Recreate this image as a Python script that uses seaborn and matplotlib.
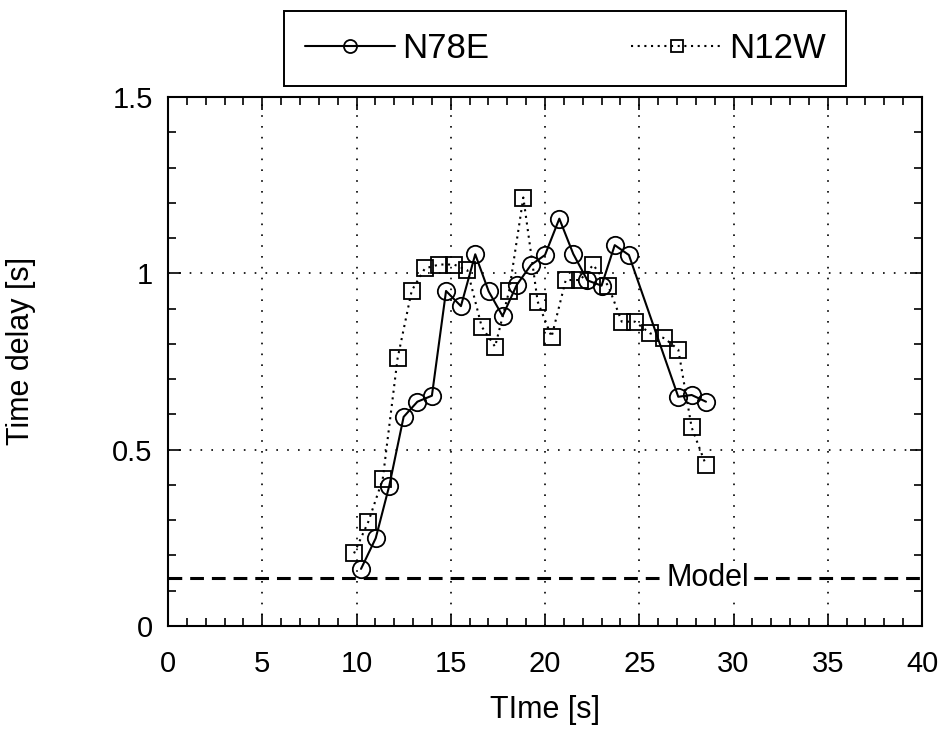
import matplotlib
matplotlib.use("Agg")
import matplotlib.pyplot as plt
import seaborn as sns
from matplotlib.ticker import MultipleLocator, FuncFormatter

# Time delay measurements for the two horizontal components
n78e_time = [10.24, 11.02, 11.74, 12.5, 13.23, 14.0, 14.75, 15.54, 16.3, 17.01,
             17.75, 18.5, 19.26, 20.0, 20.76, 21.5, 22.25, 23.0, 23.7, 24.45,
             27.07, 27.78, 28.54]
n78e_delay = [0.162, 0.249, 0.398, 0.593, 0.636, 0.653, 0.950, 0.907, 1.054, 0.949,
              0.879, 0.967, 1.024, 1.052, 1.155, 1.055, 0.980, 0.965, 1.080, 1.052,
              0.650, 0.655, 0.636]

n12w_time = [9.87, 10.63, 11.39, 12.18, 12.93, 13.63, 14.39, 15.17, 15.88, 16.64,
             17.35, 18.1, 18.85, 19.61, 20.35, 21.1, 21.86, 22.56, 23.36, 24.07,
             24.77, 25.57, 26.33, 27.07, 27.78, 28.54]
n12w_delay = [0.206, 0.296, 0.416, 0.759, 0.951, 1.014, 1.025, 1.025, 1.009, 0.849,
              0.792, 0.951, 1.215, 0.920, 0.820, 0.981, 0.981, 1.024, 0.964, 0.863,
              0.863, 0.830, 0.816, 0.784, 0.563, 0.456]

model_delay = 0.136
model_label = "Model"

x_ticks = [0, 5, 10, 15, 20, 25, 30, 35, 40]
y_ticks = [0, 0.5, 1.0, 1.5]

sns.set_theme(style="ticks")
plt.rcParams['font.family'] = ['Liberation Sans', 'DejaVu Sans']
plt.rcParams['text.color'] = 'black'
plt.rcParams['axes.labelcolor'] = 'black'
plt.rcParams['xtick.color'] = 'black'
plt.rcParams['ytick.color'] = 'black'

fig = plt.figure(figsize=(9.46, 7.33), dpi=100)
ax = fig.add_axes([168 / 946, 1 - 626 / 733, (922 - 168) / 946, (626 - 97) / 733])

sns.lineplot(x=n12w_time, y=n12w_delay, ax=ax, color='black', linewidth=1.5,
             linestyle=(0, (1, 2.2)), marker='s', markersize=11.5,
             markerfacecolor='none', markeredgecolor='black', markeredgewidth=1.3,
             label='N12W', sort=False, estimator=None, zorder=3)
sns.lineplot(x=n78e_time, y=n78e_delay, ax=ax, color='black', linewidth=1.5,
             linestyle='-', marker='o', markersize=12.5,
             markerfacecolor='none', markeredgecolor='black', markeredgewidth=1.3,
             label='N78E', sort=False, estimator=None, zorder=4)

# Model prediction
ax.axhline(model_delay, color='black', linewidth=2.2, linestyle=(0, (4.5, 2.6)), zorder=2)
ax.text(28.65, model_delay, model_label, ha='center', va='center', fontsize=22,
        color='black', bbox=dict(facecolor='white', edgecolor='none', pad=1), zorder=2.5)

ax.set_xlim(0, 40)
ax.set_ylim(0, 1.5)
ax.set_xticks(x_ticks)
ax.set_yticks(y_ticks)
ax.xaxis.set_minor_locator(MultipleLocator(1))
ax.yaxis.set_minor_locator(MultipleLocator(0.1))
ax.yaxis.set_major_formatter(FuncFormatter(lambda v, p: f"{v:g}"))

ax.grid(True, which='major', color='black', linewidth=1.2, linestyle=(0, (1, 5.5)))
ax.set_axisbelow(True)

for s in ax.spines.values():
    s.set_visible(True)
    s.set_linewidth(1.5)
    s.set_color('black')

ax.tick_params(which='both', direction='in', top=True, right=True,
               color='black', width=1.2)
ax.tick_params(which='major', length=9)
ax.tick_params(which='minor', length=5.5)
ax.tick_params(axis='x', which='major', labelsize=21, pad=17, labelcolor='black')
ax.tick_params(axis='y', which='major', labelsize=21, pad=11, labelcolor='black')

ax.set_xlabel("TIme [s]", fontsize=22, color='black')
ax.set_ylabel("Time delay [s]", fontsize=22, color='black')
ax.xaxis.set_label_coords(0.5, -0.13)
ax.yaxis.set_label_coords(-0.175, 0.52)

handles, labels = ax.get_legend_handles_labels()
ax.get_legend().remove()
order = [labels.index('N78E'), labels.index('N12W')]
leg = fig.legend([handles[i] for i in order], [labels[i] for i in order],
                 loc='upper left', bbox_to_anchor=(284 / 946, 1 - 11 / 733),
                 bbox_transform=fig.transFigure, ncol=2, fontsize=25,
                 frameon=True, fancybox=False, edgecolor='black', framealpha=1,
                 borderpad=0.6, handlelength=2.6, handletextpad=0.2,
                 columnspacing=4.1, borderaxespad=0, markerscale=0.75)
leg.get_frame().set_linewidth(1.4)

fig.savefig("out.png", dpi=100, facecolor='white')
